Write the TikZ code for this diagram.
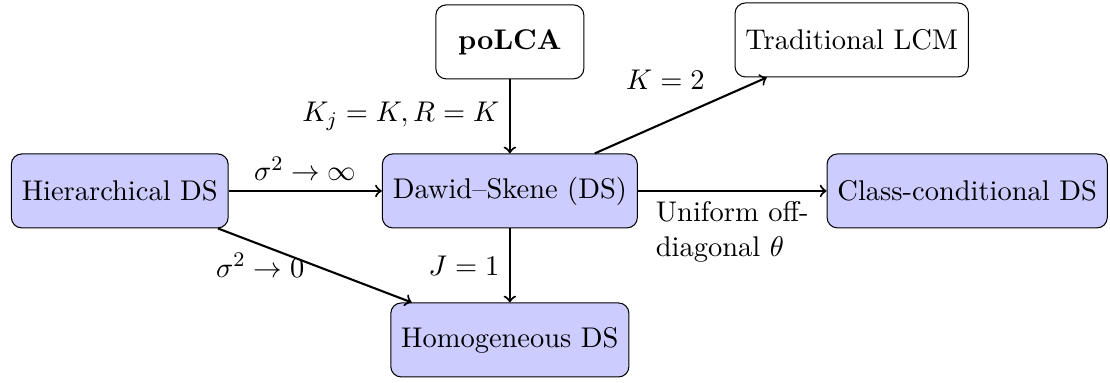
\documentclass[tikz,border=0pt,11pt]{standalone}
\usepackage{amsmath}
\usetikzlibrary{positioning}

\begin{document}
\begin{tikzpicture}[
    model/.style={draw, rounded corners, fill=blue!20, minimum height=1cm, inner sep=4pt},
    plain/.style={draw, rounded corners, minimum height=1cm, minimum width=2cm, inner sep=4pt},
    link/.style={->, thick}]
\useasboundingbox (-6.89,-2.59) rectangle (8.11,2.58);

\node[model] (ds) at (0,0) {Dawid--Skene (DS)};
\node[model, left=2.07cm of ds] (hier) {Hierarchical DS};
\node[model, right=2.55cm of ds] (cc) {Class-conditional DS};
\node[model, below=1cm of ds] (homog) {Homogeneous DS};
\node[plain, above=1cm of ds] (polca) {\textbf{poLCA}};
\node[plain] (lcm) at (4.62,2.04) {Traditional LCM};

\draw[link] (hier) -- node[above] {$\sigma^2 \to \infty$} (ds);
\draw[link] (hier) -- node[left] {$\sigma^2 \to 0$} (homog);
\draw[link] (polca) -- node[left] {$K_j = K, R = K$} (ds);
\draw[link] (ds) -- node[pos=0.7, above left] {$K = 2$} (lcm);
\draw[link] (ds) -- node[below, align=left] {Uniform off-\\diagonal $\theta$} (cc);
\draw[link] (ds) -- node[left] {$J = 1$} (homog);
\end{tikzpicture}
\end{document}
